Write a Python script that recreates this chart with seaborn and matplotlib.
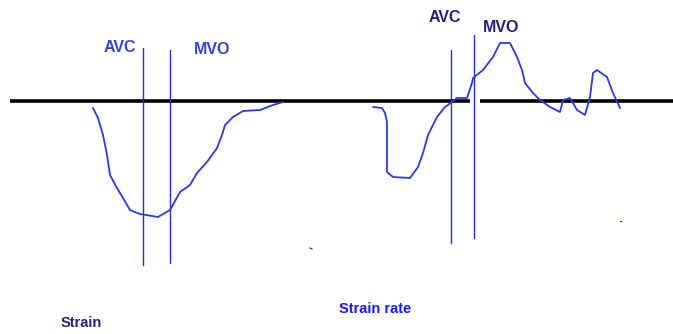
import matplotlib
matplotlib.use("Agg")
import matplotlib.pyplot as plt
import seaborn as sns
import pandas as pd

sns.set_theme(style="white")
plt.rcParams['font.family'] = ['Liberation Sans', 'DejaVu Sans']

# Traced curves (horizontal position, vertical position in picture units; y grows downward)
strain_t = [93, 98, 103, 107, 110, 117, 123, 130, 140, 158, 170, 180, 190, 197,
            207, 217, 222, 225, 233, 243, 260, 273, 283]
strain_v = [108, 118, 135, 155, 175, 188, 198, 210, 214, 217, 210, 192, 185, 173,
            162, 148, 135, 125, 117, 111, 110, 105, 102]

rate_t = [373, 382, 385, 387, 387, 387, 393, 410, 418, 423, 428, 437, 445, 452,
          457, 467, 472, 473, 483, 493, 500, 510, 517, 522, 525, 533, 540, 550,
          560, 563, 570, 577, 585, 590, 593, 597, 607, 613, 620]
rate_v = [107, 108, 113, 122, 140, 172, 177, 178, 167, 153, 135, 117, 107, 102,
          98, 98, 83, 78, 70, 57, 43, 43, 57, 70, 83, 93, 100, 107,
          112, 100, 98, 110, 115, 97, 73, 70, 77, 93, 108]

# Event markers: (x, top, bottom)
events_x = [143, 170, 451, 474]
events_top = [48, 50, 50, 35]
events_bottom = [265, 263, 243, 238]

baseline_y = 101
labels = ["AVC", "MVO", "AVC", "MVO", "Strain", "Strain rate"]

fig = plt.figure(figsize=(6.73, 3.34), dpi=100)
ax = fig.add_axes([0, 0, 1, 1])

# baseline (black, thick)
ax.plot([10, 470], [baseline_y, baseline_y], color="black", lw=2.6, solid_capstyle="butt")
ax.plot([480, 673], [baseline_y, baseline_y], color="black", lw=2.6, solid_capstyle="butt")

# vertical event lines
for x, t, b in zip(events_x, events_top, events_bottom):
    ax.plot([x, x], [t, b], color="#2233cc", lw=1.0)

df_s = pd.DataFrame({"t": strain_t, "v": strain_v})
df_r = pd.DataFrame({"t": rate_t, "v": rate_v})
sns.lineplot(data=df_s, x="t", y="v", sort=False, estimator=None, ax=ax,
             color="#2b3bdc", lw=1.3)
sns.lineplot(data=df_r, x="t", y="v", sort=False, estimator=None, ax=ax,
             color="#2b3bdc", lw=1.3)
ax.set_xlim(0, 673)
ax.set_ylim(334, 0)
ax.axis("off")

ax.text(120, 47, labels[0], color="#3344dd", fontsize=11.5, fontweight="bold", ha="center", va="center")
ax.text(212, 50, labels[1], color="#3344dd", fontsize=11.5, fontweight="bold", ha="center", va="center")
ax.text(445, 18, labels[2], color="#22227a", fontsize=11.5, fontweight="bold", ha="center", va="center")
ax.text(501, 28, labels[3], color="#22227a", fontsize=11.5, fontweight="bold", ha="center", va="center")
ax.text(81, 323, labels[4], color="#22227a", fontsize=10.5, fontweight="bold", ha="center", va="center")
ax.text(375, 309, labels[5], color="#1a1aff", fontsize=10.5, fontweight="bold", ha="center", va="center")

# stray specks
ax.plot([310, 312], [248, 249], color="#2a3adb", lw=1)
ax.plot([620, 621], [221, 221], color="#2a3adb", lw=1)

fig.savefig("out.png", dpi=100)
